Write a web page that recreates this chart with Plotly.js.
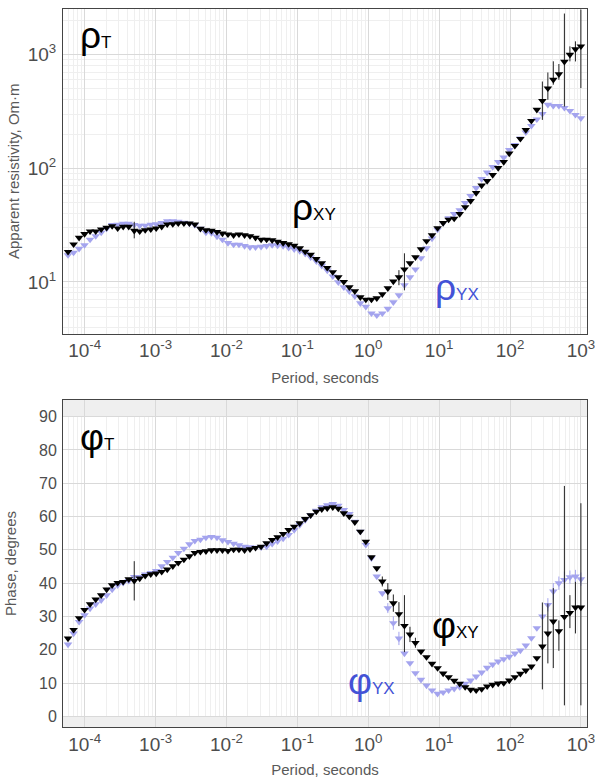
<!DOCTYPE html>
<html><head><meta charset="utf-8">
<script src="https://cdn.plot.ly/plotly-3.0.1.min.js"></script>
<style>html,body{margin:0;padding:0;background:#fff}#chart{width:595px;height:778px}</style>
</head><body><div id="chart"></div>
<script>
// Periods, seconds
const periods = [
 5.82e-5, 6.97e-5, 8.34e-5, 9.95e-5, 1.19e-4, 1.43e-4, 1.71e-4, 2.04e-4, 2.44e-4, 2.92e-4,
 3.49e-4, 4.18e-4, 5.00e-4, 5.97e-4, 7.14e-4, 8.55e-4, 1.02e-3, 1.22e-3, 1.46e-3, 1.75e-3,
 2.09e-3, 2.51e-3, 3.00e-3, 3.58e-3, 4.29e-3, 5.13e-3, 6.14e-3, 7.35e-3, 8.77e-3, 1.05e-2,
 1.26e-2, 1.50e-2, 1.80e-2, 2.15e-2, 2.57e-2, 3.08e-2, 3.68e-2, 4.41e-2, 5.26e-2, 6.30e-2,
 7.53e-2, 9.02e-2, 0.108, 0.129, 0.154, 0.185, 0.221, 0.264, 0.316, 0.378,
 0.452, 0.541, 0.647, 0.773, 0.925, 1.11, 1.32, 1.58, 1.89, 2.26,
 2.71, 3.24, 3.88, 4.63, 5.55, 6.64, 7.94, 9.51, 11.4, 13.6,
 16.3, 19.5, 23.3, 27.8, 33.3, 39.8, 47.6, 57.0, 68.1, 81.5,
 97.5, 117, 140, 167, 200, 239, 286, 342, 408, 489,
 585, 700, 837, 1000
];
// Apparent resistivity, Om·m
const rhoXY = [
 18.4, 21.4, 24.5, 26.4, 27.9, 27.9, 29.0, 30.0, 31.0, 29.6,
 30.6, 30.6, 28.2, 27.9, 28.6, 29.0, 29.6, 30.6, 32.1, 32.3,
 32.8, 32.8, 32.8, 32.1, 29.4, 28.6, 28.2, 27.5, 26.7, 26.2,
 25.8, 26.2, 25.8, 25.3, 24.5, 23.6, 23.6, 23.3, 22.6, 22.0,
 21.5, 20.9, 19.8, 18.5, 17.4, 15.9, 14.6, 13.3, 12.2, 11.0,
 10.0, 8.98, 8.28, 7.33, 6.99, 6.99, 7.18, 7.79, 8.80, 10.1,
 11.0, 12.9, 14.6, 16.5, 19.4, 22.9, 25.8, 29.8, 33.0, 35.4,
 36.1, 39.6, 45.6, 51.6, 60.7, 70.6, 77.4, 87.5, 100.8, 113.9,
 135.3, 157.7, 181.7, 218, 262, 328, 393, 507, 603, 674,
 869, 1002, 1120, 1186
];
const rhoYX = [
 17.2, 18.1, 19.6, 21.1, 23.6, 25.3, 27.2, 29.5, 31.7, 32.0,
 32.6, 32.6, 31.7, 31.3, 31.3, 32.0, 32.3, 33.0, 34.3, 34.3,
 34.0, 33.3, 32.6, 31.7, 29.5, 27.2, 26.9, 25.1, 23.6, 22.0,
 21.3, 21.3, 20.7, 20.2, 20.2, 20.4, 20.7, 21.1, 20.9, 20.7,
 20.0, 19.4, 18.7, 17.7, 16.5, 15.2, 13.9, 12.6, 11.2, 9.94,
 8.98, 8.28, 7.47, 6.49, 6.04, 5.29, 5.08, 5.29, 5.80, 6.62,
 7.63, 9.35, 11.0, 12.9, 16.2, 19.8, 24.1, 28.9, 33.0, 36.5,
 39.6, 42.9, 49.5, 57.1, 67.1, 80.6, 92.0, 102.9, 113.9, 124.8,
 145.3, 160.9, 183.6, 207.5, 236.7, 270, 302, 363, 355, 355,
 341, 321, 296, 276
];
// Phase, degrees
const phiXY = [
 23.4, 26.0, 29.5, 32.0, 33.7, 35.1, 36.4, 38.1, 39.4, 40.1,
 40.4, 41.2, 40.7, 41.4, 42.2, 42.7, 42.9, 43.4, 44.1, 45.1,
 46.1, 47.1, 48.1, 49.1, 49.4, 49.6, 49.9, 49.9, 49.9, 49.7,
 50.1, 50.1, 49.9, 50.2, 50.6, 51.0, 52.0, 53.0, 53.8, 54.8,
 56.0, 57.0, 58.0, 59.3, 60.4, 61.5, 62.2, 62.5, 62.8, 62.4,
 61.0, 60.0, 58.3, 55.5, 52.5, 47.8, 44.5, 40.5, 37.5, 34.0,
 30.7, 27.2, 24.6, 22.1, 19.5, 17.8, 15.8, 14.5, 12.9, 11.8,
 10.7, 9.8, 8.8, 8.0, 7.8, 8.2, 9.0, 9.5, 9.9, 10.0,
 10.8, 11.8, 12.8, 13.8, 15.0, 17.5, 21.0, 24.9, 28.5, 25.6,
 29.9, 31.1, 32.7, 32.7
];
const phiYX = [
 21.6, 24.9, 28.4, 30.4, 32.4, 33.7, 34.9, 36.4, 38.1, 39.4,
 40.1, 40.7, 41.9, 41.9, 42.6, 43.1, 43.7, 45.1, 46.4, 47.7,
 49.1, 50.4, 51.7, 52.7, 53.1, 53.7, 53.9, 53.7, 52.9, 52.4,
 51.9, 51.4, 51.0, 50.8, 50.7, 50.8, 51.0, 51.8, 52.6, 53.4,
 54.5, 56.0, 57.5, 59.0, 60.4, 61.8, 62.8, 63.4, 63.8, 63.3,
 62.0, 60.8, 58.5, 55.5, 51.5, 47.5, 42.0, 37.0, 32.5, 28.0,
 23.4, 18.9, 16.0, 13.0, 11.0, 9.3, 7.8, 6.8, 7.2, 7.8,
 8.3, 8.8, 9.8, 10.8, 12.0, 13.2, 14.6, 15.6, 16.5, 17.2,
 17.9, 18.9, 19.8, 21.3, 23.5, 26.5, 30.0, 33.5, 37.5, 40.0,
 41.0, 41.8, 42.0, 41.2
];
// Error bars (sparse): index into periods, half-widths
const rhoXYErrIdx   = [12, 60, 61, 86, 87, 88, 89, 90, 91, 92, 93];
const rhoXYErrUpDec = [0.079, 0.062, 0.141, 0.170, 0.139, 0.162, 0.090, 0.424, 0.073, 0.069, 0.324];
const rhoXYErrDnDec = [0.067, 0.071, 0.185, 0.168, 0.101, 0.044, 0.049, 0.395, 0.059, 0.108, 0.367];
const phiXYErrIdx = [12, 57, 58, 59, 60, 61, 62, 63, 86, 87, 88, 89, 90, 91, 92, 93];
const phiXYErrUp  = [5.9, 1.5, 2.5, 2.6, 3.6, 9.2, 2.3, 1.5, 13.2, 9.0, 10.0, 3.2, 39.3, 5.3, 7.7, 31.3];
const phiXYErrDn  = [5.9, 1.5, 2.5, 2.6, 3.6, 7.9, 2.3, 1.5, 12.9, 9.0, 14.0, 5.9, 26.6, 4.6, 7.8, 29.4];
const phiYXErrIdx = [58, 59, 60, 87, 88, 89, 90, 91, 92, 93];
const phiYXErr    = [1.5, 2.0, 2.0, 2.0, 2.5, 2.0, 2.5, 2.0, 2.0, 2.0];
// Tick labels
const xTickVals = [1e-4, 1e-3, 1e-2, 1e-1, 1, 10, 100, 1000];
const xTickText = ['10<sup>-4</sup>','10<sup>-3</sup>','10<sup>-2</sup>','10<sup>-1</sup>','10<sup>0</sup>','10<sup>1</sup>','10<sup>2</sup>','10<sup>3</sup>'];
const rhoTickVals = [10, 100, 1000];
const rhoTickText = ['10<sup>1</sup>','10<sup>2</sup>','10<sup>3</sup>'];
const phiTickVals = [0, 10, 20, 30, 40, 50, 60, 70, 80, 90];

// ---- build ----
function fill(n, idx, vals, fn) {
  const a = new Array(n).fill(0);
  idx.forEach((k, i) => { a[k] = fn(vals[i], k); });
  return a;
}
const N = periods.length;
const rhoUp = fill(N, rhoXYErrIdx, rhoXYErrUpDec, (e, k) => rhoXY[k] * (Math.pow(10, e) - 1));
const rhoDn = fill(N, rhoXYErrIdx, rhoXYErrDnDec, (e, k) => rhoXY[k] * (1 - Math.pow(10, -e)));
const phiUp = fill(N, phiXYErrIdx, phiXYErrUp, e => e);
const phiDn = fill(N, phiXYErrIdx, phiXYErrDn, e => e);
const phiYXE = fill(N, phiYXErrIdx, phiYXErr, e => e);

const minorX = [];
for (let d = -5; d <= 3; d++) for (let m = 2; m <= 9; m++) minorX.push(m * Math.pow(10, d));
const minorRho = [];
for (let d = 0; d <= 3; d++) for (let m = 2; m <= 9; m++) minorRho.push(m * Math.pow(10, d));

const BLACK = '#000000';
const LAV = '#a4a4ee';
const BLUE_TXT = '#4352d6';
const FONT = 'Liberation Sans, Arial, sans-serif';

const mk = (c) => ({symbol: 'triangle-down', size: 7.5, color: c, line: {width: 0}});
const traces = [
  {x: periods, y: rhoYX, type: 'scatter', mode: 'markers', marker: mk(LAV), xaxis: 'x', yaxis: 'y', hoverinfo: 'x+y'},
  {x: periods, y: rhoXY, type: 'scatter', mode: 'markers', marker: mk(BLACK), xaxis: 'x', yaxis: 'y',
   error_y: {type: 'data', symmetric: false, array: rhoUp, arrayminus: rhoDn, color: '#222', thickness: 1, width: 0}},
  {x: periods, y: phiYX, type: 'scatter', mode: 'markers', marker: mk(LAV), xaxis: 'x2', yaxis: 'y2',
   error_y: {type: 'data', array: phiYXE, color: LAV, thickness: 1, width: 0}},
  {x: periods, y: phiXY, type: 'scatter', mode: 'markers', marker: mk(BLACK), xaxis: 'x2', yaxis: 'y2',
   error_y: {type: 'data', symmetric: false, array: phiUp, arrayminus: phiDn, color: '#222', thickness: 1, width: 0}}
];

const GRID = '#d9d9d9', MINOR = '#efefef', FRAME = '#444444', TICK = '#4d4d4d', TITLE = '#595959';
function xAxis(anchor) {
  return {
    type: 'log', range: [-4.306, 3.086], anchor: anchor, domain: [0, 1],
    tickmode: 'array', tickvals: xTickVals, ticktext: xTickText,
    tickfont: {family: FONT, size: 19, color: TICK}, ticklabeloverflow: 'allow',
    showgrid: true, gridcolor: GRID, gridwidth: 1,
    minor: {tickmode: 'array', tickvals: minorX, showgrid: true, gridcolor: MINOR, gridwidth: 1, ticks: ''},
    showline: true, mirror: true, linecolor: FRAME, linewidth: 1, ticks: '', zeroline: false,
    automargin: false,
    title: {text: 'Period, seconds', font: {family: FONT, size: 15, color: TITLE}, standoff: 12}
  };
}
const layout = {
  width: 595, height: 778,
  margin: {l: 63, r: 8, t: 9, b: 51},
  paper_bgcolor: '#ffffff', plot_bgcolor: '#ffffff',
  showlegend: false,
  font: {family: FONT, color: TICK},
  xaxis: xAxis('y'),
  xaxis2: xAxis('y2'),
  yaxis: {
    type: 'log', range: [0.545, 3.403], domain: [0.548, 1], anchor: 'x',
    tickmode: 'array', tickvals: rhoTickVals, ticktext: rhoTickText,
    tickfont: {family: FONT, size: 19, color: TICK}, ticklabelstandoff: 2,
    showgrid: true, gridcolor: GRID,
    minor: {tickmode: 'array', tickvals: minorRho, showgrid: true, gridcolor: MINOR, ticks: ''},
    showline: true, mirror: true, linecolor: FRAME, linewidth: 1, ticks: '', zeroline: false,
    automargin: false,
    title: {text: 'Apparent resistivity, Om·m', font: {family: FONT, size: 15, color: TITLE}, standoff: 4}
  },
  yaxis2: {
    range: [-3.2, 95], domain: [0, 0.4554], anchor: 'x2',
    tickmode: 'array', tickvals: phiTickVals,
    tickfont: {family: FONT, size: 16, color: TICK}, ticklabelstandoff: 2,
    showgrid: true, gridcolor: GRID,
    showline: true, mirror: true, linecolor: FRAME, linewidth: 1, ticks: '', zeroline: false,
    automargin: false,
    title: {text: 'Phase, degrees', font: {family: FONT, size: 15, color: TITLE}, standoff: 18}
  },
  shapes: [
    {type: 'rect', xref: 'x2 domain', yref: 'y2', x0: 0, x1: 1, y0: 90, y1: 95, fillcolor: '#efefef', line: {width: 0}, layer: 'below'},
    {type: 'rect', xref: 'x2 domain', yref: 'y2', x0: 0, x1: 1, y0: -3.2, y1: 0, fillcolor: '#efefef', line: {width: 0}, layer: 'below'}
  ],
  annotations: [
    {xref: 'x domain', yref: 'y domain', x: 0.028, y: 0.918, xanchor: 'left', yanchor: 'middle', showarrow: false,
     text: 'ρ<span style="font-size:17px">T</span>', font: {family: FONT, size: 37, color: BLACK}},
    {xref: 'x domain', yref: 'y domain', x: 0.433, y: 0.387, xanchor: 'left', yanchor: 'middle', showarrow: false,
     text: 'ρ<span style="font-size:17px">XY</span>', font: {family: FONT, size: 37, color: BLACK}},
    {xref: 'x domain', yref: 'y domain', x: 0.706, y: 0.143, xanchor: 'left', yanchor: 'middle', showarrow: false,
     text: 'ρ<span style="font-size:17px">YX</span>', font: {family: FONT, size: 37, color: BLUE_TXT}},
    {xref: 'x2 domain', yref: 'y2 domain', x: 0.028, y: 0.884, xanchor: 'left', yanchor: 'middle', showarrow: false,
     text: 'φ<span style="font-size:17px">T</span>', font: {family: FONT, size: 37, color: BLACK}},
    {xref: 'x2 domain', yref: 'y2 domain', x: 0.700, y: 0.311, xanchor: 'left', yanchor: 'middle', showarrow: false,
     text: 'φ<span style="font-size:17px">XY</span>', font: {family: FONT, size: 37, color: BLACK}},
    {xref: 'x2 domain', yref: 'y2 domain', x: 0.540, y: 0.140, xanchor: 'left', yanchor: 'middle', showarrow: false,
     text: 'φ<span style="font-size:17px">YX</span>', font: {family: FONT, size: 37, color: BLUE_TXT}}
  ]
};
Plotly.newPlot('chart', traces, layout, {displayModeBar: false, staticPlot: true});
</script>
</body></html>
